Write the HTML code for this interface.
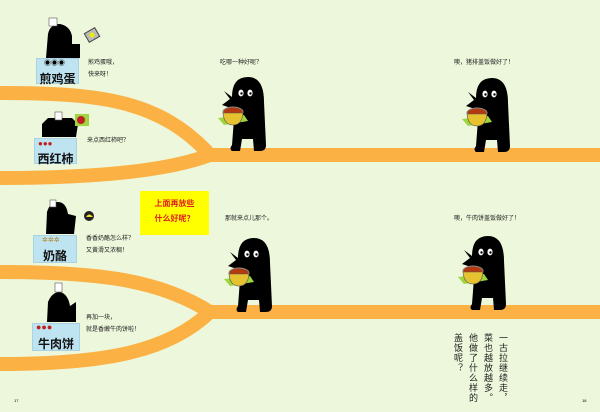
<!DOCTYPE html>
<html><head><meta charset="utf-8"><style>
html,body{margin:0;padding:0;}
body{width:600px;height:412px;background:#edf7db;overflow:hidden;position:relative;font-family:"Liberation Sans","Noto Sans CJK SC",sans-serif;}
.t{position:absolute;font-size:6px;color:#222;line-height:12px;white-space:nowrap;}
.box{position:absolute;background:#bfe4f1;border:1px solid #a9d3e3;font-size:12px;font-weight:bold;color:#111;text-align:center;box-sizing:border-box;padding-top:11px;}
.v{position:absolute;writing-mode:vertical-rl;font-size:9px;color:#222;letter-spacing:1px;}
</style></head><body>
<svg width="600" height="412" style="position:absolute;left:0;top:0">
<defs>
<g id="ch">
<path d="M10,20 Q10,0 26,0 Q42,0 42,25 L44,68 Q44,74 38,74 L32,74 L31,62 L20,62 L18,74 L10,74 Q7,72 10,68 L12,42 L6,30 L0,28 L8,22 L2,14 Z" fill="#000"/>
<ellipse cx="19" cy="16" rx="2.6" ry="3.4" fill="#fff"/><ellipse cx="28" cy="16" rx="2.6" ry="3.4" fill="#fff"/>
<circle cx="19.5" cy="16.5" r="1.2"/><circle cx="28.5" cy="16.5" r="1.2"/>
<polygon points="-4,41 22,38 26,44 2,48" fill="#9fd640"/>
<ellipse cx="11" cy="35" rx="10" ry="5" fill="#b33a10" stroke="#888" stroke-width="1"/>
<path d="M1,36 L21,36 Q20,48 11,48 Q2,48 1,36 Z" fill="#e6c230" stroke="#555" stroke-width="0.6"/>
</g>
</defs>
<g fill="none" stroke="#fbb144" stroke-width="14">
<path d="M0,93 C100,93 160,100 210,155 L600,155"/>
<path d="M0,178 C100,178 170,170 210,155"/>
<path d="M0,272 C100,272 160,280 210,312 L600,312"/>
<path d="M0,364 C110,364 170,350 210,312"/>
</g>
<use href="#ch" x="222" y="77"/>
<use href="#ch" x="466" y="78"/>
<use href="#ch" x="228" y="238"/>
<use href="#ch" x="462" y="236"/>
<!-- cooks -->
<path d="M46,58 L48,34 Q50,24 60,24 Q70,26 72,36 L72,44 L80,44 L80,58 Z" fill="#000"/>
<rect x="49" y="18" width="8" height="8" fill="#fff" stroke="#555" stroke-width="0.6"/>
<rect x="86" y="30" width="12" height="10" fill="#bbb" stroke="#444" transform="rotate(-30 92 35)"/>
<circle cx="92" cy="35" r="2.5" fill="#ee0"/>
<path d="M42,137 L42,124 L48,118 L72,118 L78,124 L76,137 Z" fill="#000"/>
<rect x="55" y="112" width="7" height="8" fill="#fff" stroke="#555" stroke-width="0.6"/>
<rect x="75" y="114" width="14" height="12" fill="#9fd640"/><circle cx="81" cy="120" r="4" fill="#c02020"/>
<path d="M46,234 L47,212 Q50,202 58,202 Q66,202 68,214 L76,216 L74,234 Z" fill="#000"/>
<rect x="50" y="200" width="6" height="7" fill="#fff" stroke="#555" stroke-width="0.6"/>
<circle cx="89" cy="216" r="5" fill="#222"/><path d="M86,217 Q89,212 93,217 Z" fill="#f4d83a"/>
<path d="M47,322 L48,302 Q52,292 60,292 Q68,294 70,306 L76,302 L76,322 Z" fill="#000"/>
<rect x="55" y="283" width="7" height="9" fill="#fff" stroke="#555" stroke-width="0.6"/>
<rect x="140" y="191" width="69" height="44" fill="#ffff00"/>
</svg>
<div class="box" style="left:36px;top:58px;width:43px;height:26px;">煎鸡蛋</div>
<div class="box" style="left:34px;top:138px;width:43px;height:26px;">西红柿</div>
<div class="box" style="left:33px;top:235px;width:44px;height:28px;">奶酪</div>
<div class="box" style="left:32px;top:323px;width:48px;height:28px;">牛肉饼</div>
<div style="position:absolute;left:44px;top:58px;font-size:7px;">◉◉◉</div>
<div style="position:absolute;left:38px;top:139px;font-size:8px;color:#c02020;">●●●</div>
<div style="position:absolute;left:42px;top:236px;font-size:7px;color:#b08020;">✲✲✲</div>
<div style="position:absolute;left:36px;top:322px;font-size:9px;color:#c02020;">●●●</div>
<div class="t" style="left:88px;top:57px;">煎鸡蛋哦，<br>快来呀！</div>
<div class="t" style="left:87px;top:135px;">来点西红柿吧？</div>
<div class="t" style="left:86px;top:233px;">香香奶酪怎么样？<br>又黄滑又浓稠！</div>
<div class="t" style="left:86px;top:312px;">再加一块，<br>就是香嫩牛肉饼啦！</div>
<div class="t" style="left:220px;top:57px;">吃哪一种好呢？</div>
<div class="t" style="left:454px;top:57px;">噢，猪排盖饭做好了！</div>
<div class="t" style="left:225px;top:213px;">那就来点儿那个。</div>
<div class="t" style="left:454px;top:213px;">噢，牛肉饼盖饭做好了！</div>
<div style="position:absolute;left:140px;top:196px;width:69px;text-align:center;font-size:8px;font-weight:bold;color:#e02020;line-height:15px;">上面再放些<br>什么好呢？</div>
<div class="v" style="left:497px;top:333px;">一古拉继续走，</div>
<div class="v" style="left:482px;top:333px;">菜也越放越多。</div>
<div class="v" style="left:467px;top:333px;">他做了什么样的</div>
<div class="v" style="left:452px;top:333px;">盖饭呢？</div>
<div style="position:absolute;left:14px;top:398px;font-size:4px;">17</div>
<div style="position:absolute;left:582px;top:398px;font-size:4px;">18</div>
</body></html>
